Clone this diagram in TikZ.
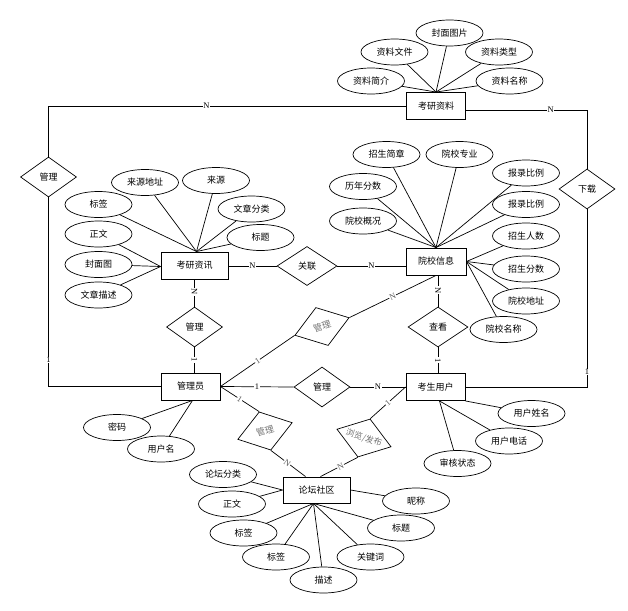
\documentclass[tikz,border=0pt]{standalone}
\usepackage{fontspec}
\newfontfamily\cjk{Noto Sans CJK SC}
\newfontfamily\tnr{Liberation Serif}
\usetikzlibrary{shapes.geometric}
\begin{document}
\begin{tikzpicture}[x=1pt,y=-1pt,
  every node/.style={font=\cjk\fontsize{9}{10}\selectfont},
  ent/.style={draw, line width=0.9pt, rectangle, minimum width=59, minimum height=27, inner sep=0},
  attr/.style={draw, ellipse, line width=0.7pt, minimum width=67, minimum height=26, inner sep=0},
  rel/.style={draw, diamond, line width=0.7pt, minimum width=56, minimum height=40, inner sep=0},
  lk/.style={line width=0.7pt},
  card/.style={font=\tnr\fontsize{8.5}{9}\selectfont, fill=white, inner sep=0.6pt},
  gcard/.style={card, text=black!65, sloped},
]
\useasboundingbox (0,0) rectangle (628,610);

% entities
\node[ent] (kyzl) at (436,106) {考研资料};
\node[ent, minimum width=67] (kyzx) at (194.5,265.5) {考研资讯};
\node[ent, minimum width=60] (yxxx) at (436,261.5) {院校信息};
\node[ent] (gly) at (190.5,386.5) {管理员};
\node[ent] (ksyh) at (435.5,387) {考生用户};
\node[ent, minimum width=67, minimum height=26] (ltsq) at (316.5,490) {论坛社区};

% relationships
\node[rel] (gl1) at (48.5,177) {\makebox[0pt]{管理}};
\node[rel] (xz) at (587,189) {\makebox[0pt]{下载}};
\node[rel, minimum width=60, minimum height=39] (gll) at (307,266) {\makebox[0pt]{关联}};
\node[rel] (gl2) at (194.5,327) {\makebox[0pt]{管理}};
\node[rel, minimum width=60] (ck) at (438,327) {\makebox[0pt]{查看}};
\node[rel] (gl3) at (322,387) {\makebox[0pt]{管理}};
\node[rel, rotate=18, text=black!55, minimum width=57] (glr1) at (322,326.5) {\makebox[0pt]{管理}};
\node[rel, rotate=17, text=black!55, minimum width=57] (glr2) at (265,431) {\makebox[0pt]{管理}};
\node[rel, rotate=-18, text=black!55, minimum width=57] (llfb) at (364,438) {\makebox[0pt]{\fontsize{8.5}{9}\selectfont 浏览/发布}};

% attributes of 考研资料
\node[attr] (a1) at (449.5,33) {封面图片};
\node[attr] (a2) at (394.5,52) {资料文件};
\node[attr] (a3) at (499,52) {资料类型};
\node[attr] (a4) at (371,81) {资料简介};
\node[attr] (a5) at (509.5,81) {资料名称};
\foreach \n in {a1,a2,a3,a4,a5} \draw[lk] (kyzl.north) -- (\n);

% attributes of 考研资讯
\node[attr] (b1) at (145,182.5) {来源地址};
\node[attr] (b2) at (216,180.5) {来源};
\node[attr] (b3) at (98.5,204.5) {标签};
\node[attr] (b4) at (251.5,209) {文章分类};
\node[attr] (b5) at (98.5,234) {正文};
\node[attr] (b6) at (260.5,237.5) {标题};
\node[attr] (b7) at (98.5,264.5) {封面图};
\node[attr] (b8) at (98.5,295) {文章描述};
\foreach \n in {b1,b2,b3,b4,b6} \draw[lk] ([xshift=2]kyzx.north) -- (\n);
\foreach \n in {b5,b7,b8} \draw[lk] ([yshift=-1]kyzx.west) -- (\n);

% attributes of 院校信息
\node[attr] (c1) at (386.5,154.5) {招生简章};
\node[attr] (c2) at (459.5,154.5) {院校专业};
\node[attr] (c3) at (363,186.5) {历年分数};
\node[attr] (c4) at (526,173) {报录比例};
\node[attr] (c5) at (363,221) {院校概况};
\node[attr] (c6) at (526,204.5) {报录比例};
\node[attr] (c7) at (526,236) {招生人数};
\node[attr] (c8) at (526,269) {招生分数};
\node[attr] (c9) at (526,301) {院校地址};
\node[attr] (c10) at (503.5,329.5) {院校名称};
\foreach \n in {c1,c2,c3,c4,c5,c6} \draw[lk] (yxxx.north) -- (\n);
\foreach \n in {c7,c8,c9,c10} \draw[lk] (yxxx.east) -- (\n);

% attributes of 管理员
\node[attr] (d1) at (117,427.5) {密码};
\node[attr] (d2) at (161,449) {用户名};
\foreach \n in {d1,d2} \draw[lk] ([xshift=2]gly.south) -- (\n);

% attributes of 考生用户
\node[attr] (e1) at (531.5,413.5) {用户姓名};
\node[attr] (e2) at (509,441) {用户电话};
\node[attr] (e3) at (457.5,463.5) {审核状态};
\draw[lk] (ksyh.south east) -- (e1);
\draw[lk] ([xshift=4]ksyh.south) -- (e2);
\draw[lk] ([xshift=4]ksyh.south) -- (e3);

% attributes of 论坛社区
\node[attr] (f1) at (223,474.5) {论坛分类};
\node[attr] (f2) at (232,504) {正文};
\node[attr] (f3) at (243.5,533) {标签};
\node[attr] (f4) at (276,557) {标签};
\node[attr] (f5) at (323.5,580) {描述};
\node[attr] (f6) at (370.5,557) {关键词};
\node[attr] (f7) at (401,528) {标题};
\node[attr] (f8) at (416,501) {昵称};
\foreach \n in {f1,f2} \draw[lk] (ltsq.west) -- (\n);
\foreach \n in {f3,f4,f5,f6,f7} \draw[lk] ([xshift=-3]ltsq.south) -- (\n);
\draw[lk] (ltsq.east) -- (f8);

% relationship connectors
\draw[lk] (kyzl.west) -| node[card, pos=0.279] {N} (gl1.north);
\draw[lk] (gl1.south) |- node[card, pos=0.43] {1} (gly.west);
\draw[lk] ([yshift=-4]kyzl.east) -| node[card, pos=0.35] {N} (xz.north);
\draw[lk] (xz.south) |- node[card, pos=0.458] {1} (ksyh.east);

\draw[lk] (kyzx.east |- gll.west) -- node[card] {N} (gll.west);
\draw[lk] (gll.east) -- node[card] {N} (gll.east -| yxxx.west);

\draw[lk] (gl2.north |- kyzx.south) -- node[card, sloped, pos=0.46] {N} (gl2.north);
\draw[lk] (gl2.south) -- node[card, sloped] {1} (gl2.south |- gly.north);
\draw[lk] (ck.north |- yxxx.south) -- node[card, sloped, pos=0.47] {N} (ck.north);
\draw[lk] (ck.south) -- node[card, sloped] {1} (ck.south |- ksyh.north);

\draw[lk] (gly.east) -- node[card] {1} (gl3.west);
\draw[lk] (gl3.east) -- node[card] {N} (gl3.east -| ksyh.west);

\draw[lk] (gly.east) -- node[gcard] {1} (glr1.west);
\draw[lk] (glr1.east) -- node[gcard] {N} (yxxx.south);
\draw[lk] (gly.east) -- node[gcard] {1} (glr2.north);
\draw[lk] (glr2.south) -- node[gcard, pos=0.47] {N} ([xshift=-11]ltsq.north);
\draw[lk] (ksyh.west) -- node[gcard] {1} (llfb.north);
\draw[lk] (llfb.south) -- node[gcard, pos=0.46] {N} ([xshift=4]ltsq.north);
\end{tikzpicture}
\end{document}
